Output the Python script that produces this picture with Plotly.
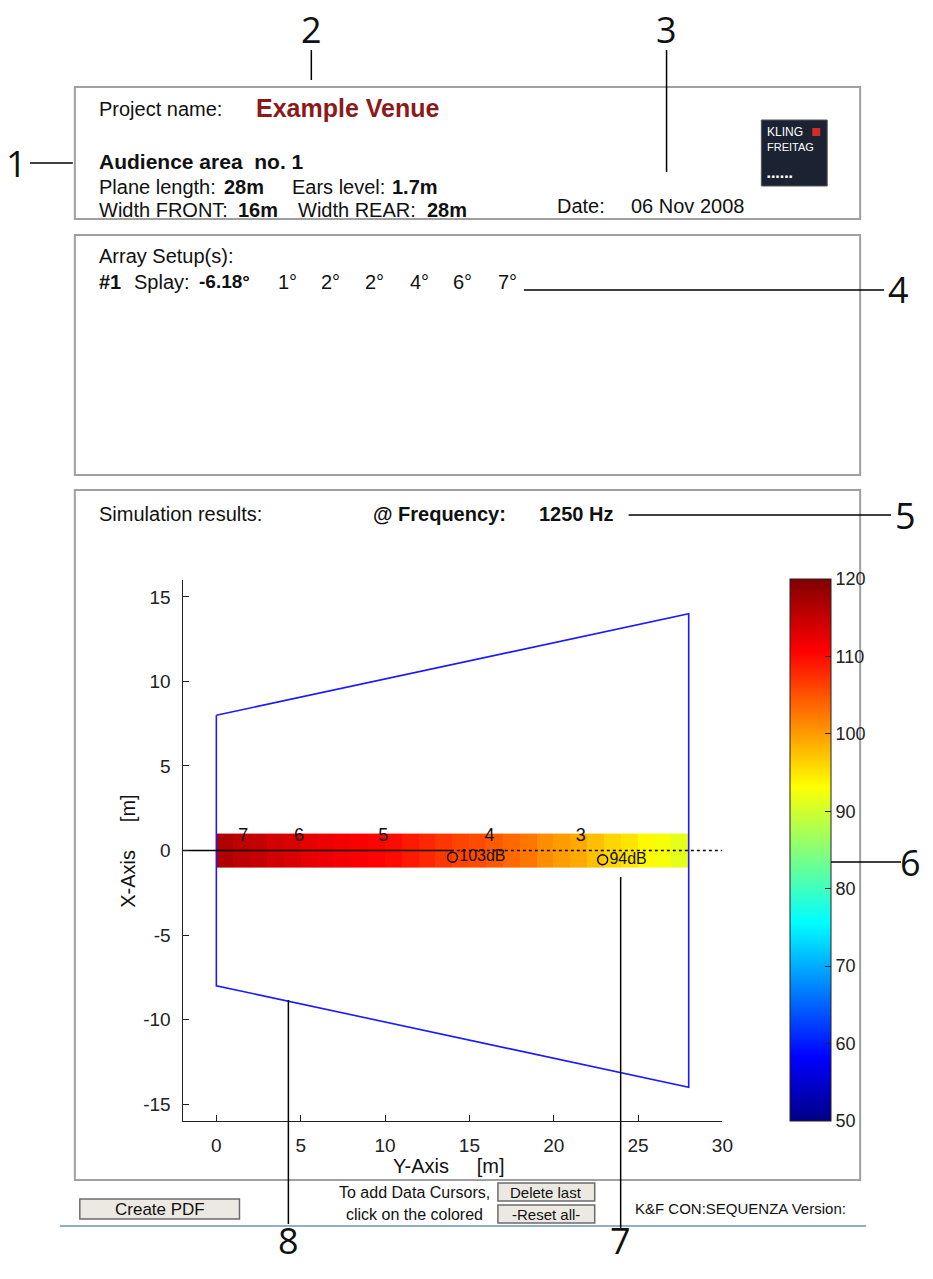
import plotly.graph_objects as go

W, H = 933, 1279
K = 933 / 924   # compensates the ~1% horizontal shrink seen in the rendered picture

# ---------------- data ----------------
project_name = "Example Venue"
plane_length = "28m"
ears_level = "1.7m"
width_front = "16m"
width_rear = "28m"
date_text = "06 Nov 2008"
splay_first = "-6.18°"
splay_angles = ["1°", "2°", "2°", "4°", "6°", "7°"]
frequency = "1250 Hz"

# audience plane outline (Y-axis distance, X-axis width) in metres
plane_y = [0, 28, 28, 0, 0]
plane_x = [8, 14, -14, -8, 8]

# SPL along the centre strip (1 m bins from 0 to 28 m), dB
strip_edges = [0, 1, 2, 3, 4, 5, 6, 7, 8, 9, 10, 11, 12, 13, 14, 15, 16, 17, 18, 19,
               20, 21, 22, 23, 24, 25, 26, 27, 28]
strip_width_edges = [-1, 1]
spl_db = [116.5, 115.5, 115, 114, 113.5, 112.5, 112, 111.5, 111, 110.5, 110, 109, 108,
          107, 106, 105.5, 104.5, 103.5, 102.5, 101, 100, 99, 97.5, 96, 95, 93.5, 92.5, 91.5]

# aiming points of cabinets
aim_labels = ["7", "6", "5", "4", "3"]
aim_y = [1.6, 4.9, 9.9, 16.2, 21.6]
aim_x = [0.85, 0.85, 0.85, 0.85, 0.85]

# data cursors
cursor_y = [14.0, 22.9]
cursor_x = [-0.4, -0.55]
cursor_text = ["103dB", "94dB"]
cursor_label_y = [14.4, 23.3]

# centre line (solid part and dotted part)
solid_y = [-2, 13.9]
solid_x = [0, 0]
dotted_y = [13.9, 30]
dotted_x = [0, 0]

x_ticks = [0, 5, 10, 15, 20, 25, 30]
y_ticks = [-15, -10, -5, 0, 5, 10, 15]
y_tick_text = ["-15", "-10", "-5", "0", "5", "10", "15"]
cbar_ticks = [50, 60, 70, 80, 90, 100, 110, 120]

callout_labels = ["1", "2", "3", "4", "5", "6", "7", "8"]

# ---------------- helpers ----------------
def px(x):
    return x * K / W

def py(y):
    return 1 - y / H

FONT = "Liberation Sans, Arial, sans-serif"
INK = "#111"

jet = [[0.0, "#000085"], [0.117, "#0000ff"], [0.367, "#00ffff"],
       [0.617, "#ffff00"], [0.867, "#ff0000"], [1.0, "#800000"]]

fig = go.Figure()

fig.add_trace(go.Heatmap(
    x=strip_edges, y=strip_width_edges, z=[spl_db],
    zmin=50, zmax=120, colorscale=jet, hoverinfo="skip",
    colorbar=dict(
        x=px(792), xanchor="left", y=py(1121), yanchor="bottom",
        thickness=41, thicknessmode="pixels",
        len=542, lenmode="pixels",
        tickvals=cbar_ticks, ticks="inside", ticklen=6, tickcolor="#222",
        outlinecolor="#222", outlinewidth=1,
        tickfont=dict(family=FONT, size=18, color="#222"),
        xpad=0, ypad=0,
    ),
))

fig.add_trace(go.Scatter(x=plane_y, y=plane_x, mode="lines",
                         line=dict(color="#1a1aff", width=1.6), hoverinfo="skip"))
fig.add_trace(go.Scatter(x=solid_y, y=solid_x, mode="lines",
                         line=dict(color="black", width=1.4), hoverinfo="skip"))
fig.add_trace(go.Scatter(x=dotted_y, y=dotted_x, mode="lines",
                         line=dict(color="black", width=1.6, dash="dot"), hoverinfo="skip"))
fig.add_trace(go.Scatter(x=aim_y, y=aim_x, mode="text", text=aim_labels,
                         textfont=dict(family=FONT, size=18, color=INK),
                         textposition="middle center", hoverinfo="skip"))
fig.add_trace(go.Scatter(x=cursor_y, y=cursor_x, mode="markers",
                         marker=dict(symbol="circle-open", size=10, color="black",
                                     line=dict(width=1.4)),
                         hoverinfo="skip"))
fig.add_trace(go.Scatter(x=cursor_label_y, y=cursor_x, mode="text", text=cursor_text,
                         textposition="middle right",
                         textfont=dict(family=FONT, size=16, color=INK),
                         hoverinfo="skip"))

axis_common = dict(showgrid=False, zeroline=False, showline=True, linecolor="#222",
                   linewidth=1.3, ticks="inside", ticklen=6, tickcolor="#222",
                   tickfont=dict(family=FONT, size=19, color="#222"),
                   fixedrange=True, ticklabelstandoff=7)

fig.update_layout(
    width=W, height=H,
    margin=dict(l=0, r=0, t=0, b=0),
    paper_bgcolor="white", plot_bgcolor="white",
    showlegend=False,
    xaxis=dict(domain=[px(183), px(724)], range=[-2, 30], tickvals=x_ticks, **axis_common),
    yaxis=dict(domain=[py(1121), py(580)], range=[-16, 16], tickvals=y_ticks,
               ticktext=y_tick_text, **axis_common),
)

shapes = []
ann = []

def rect(x0, y0, x1, y1, line="#a0a0a0", width=2, fill=None):
    shapes.append(dict(type="rect", xref="paper", yref="paper",
                       x0=px(x0), x1=px(x1), y0=py(y1), y1=py(y0),
                       line=dict(color=line, width=width),
                       fillcolor=fill if fill else "rgba(0,0,0,0)",
                       layer="below" if fill else "above"))

def line(x0, y0, x1, y1, color="black", width=1.5):
    shapes.append(dict(type="line", xref="paper", yref="paper",
                       x0=px(x0), x1=px(x1), y0=py(y0), y1=py(y1),
                       line=dict(color=color, width=width)))

def text(x, y, s, size=20, color=INK, anchor="left", family=FONT, angle=0):
    ann.append(dict(x=px(x), y=py(y), xref="paper", yref="paper", text=s,
                    showarrow=False, xanchor=anchor, yanchor="middle",
                    font=dict(family=family, size=size, color=color), textangle=angle))

# panels
rect(75, 87, 862, 219)
rect(75, 235, 862, 475)
rect(75, 490, 862, 1180)

# header panel
text(97, 109, "Project name:")
text(255, 108, "<b>" + project_name + "</b>", 25, color="#8b1a1a")
text(97, 162, "<b>Audience area  no. 1</b>", 21)
text(97, 187, "Plane length:")
text(222, 187, "<b>" + plane_length + "</b>")
text(291, 187, "Ears level:")
text(391, 187, "<b>" + ears_level + "</b>")
text(97, 210, "Width FRONT:")
text(237, 210, "<b>" + width_front + "</b>")
text(297, 210, "Width REAR:")
text(426, 210, "<b>" + width_rear + "</b>")
text(556, 206, "Date:")
text(630, 206, date_text)

# logo
shapes.append(dict(type="rect", xref="paper", yref="paper", x0=px(763), x1=px(829),
                   y0=py(186), y1=py(120), line=dict(color="#555", width=1),
                   fillcolor="#1b2232", layer="above"))
text(767, 132, "KLING", 12, color="white")
shapes.append(dict(type="rect", xref="paper", yref="paper", x0=px(814), x1=px(822),
                   y0=py(136), y1=py(128), line=dict(width=0), fillcolor="#d42a2a", layer="above"))
text(767, 147, "FREITAG", 11, color="white")
text(767, 176, "■ ■ ■ ■ ■ ■", 5, color="white")

# array setup panel
text(97, 256, "Array Setup(s):")
text(97, 282, "<b>#1</b>")
text(132, 282, "Splay:")
text(197, 282, "<b>" + splay_first + "</b>", 19)
splay_x = [277, 320, 364, 409, 452, 497]
for sx, a in zip(splay_x, splay_angles):
    text(sx, 282, a)

# simulation panel
text(97, 514, "Simulation results:")
text(372, 514, "<b>@ Frequency:</b>")
text(538, 514, "<b>" + frequency + "</b>")
text(450, 1166, "Y-Axis     [m]", 20, anchor="center")
text(128, 851, "X-Axis     [m]", 20, anchor="center", angle=-90)

# bottom controls
rect(80, 1199, 240, 1219, line="#6b6b6b", width=1.5, fill="#ece9e2")
text(160, 1209, "Create PDF", 17, anchor="center")
text(415, 1192, "To add Data Cursors,", 16, anchor="center")
text(415, 1214, "click on the colored", 16, anchor="center")
rect(499, 1183, 596, 1201, line="#6b6b6b", width=1.5, fill="#ece9e2")
text(547, 1192, "Delete last", 15, anchor="center")
rect(499, 1205, 596, 1223, line="#6b6b6b", width=1.5, fill="#ece9e2")
text(547, 1214, "-Reset all-", 15, anchor="center")
text(634, 1208, "K&F CON:SEQUENZA Version:", 15)
line(60, 1226, 868, 1226, color="#6f8fbf", width=1.5)

# callouts
cfont = "Open Sans, Noto Sans, sans-serif"
line(30, 163, 73, 163)
line(312, 50, 312, 80)
line(668, 50, 668, 172)
line(525, 290, 886, 290)
line(630, 515, 893, 515)
line(822, 862, 903, 862)
line(622, 877, 622, 1230)
line(289, 1000, 289, 1224)
callout_pos = [(17, 163), (312, 29), (668, 29), (900, 290), (907, 515), (912, 862),
               (622, 1240), (289, 1240)]
for lab, (cx, cy) in zip(callout_labels, callout_pos):
    text(cx, cy, lab, 36, color="#111", anchor="center", family=cfont)

fig.update_layout(shapes=shapes, annotations=ann)

fig.write_html("out.html", config=dict(displayModeBar=False),
               post_script="document.body.style.margin='0';document.body.style.overflow='hidden';")
